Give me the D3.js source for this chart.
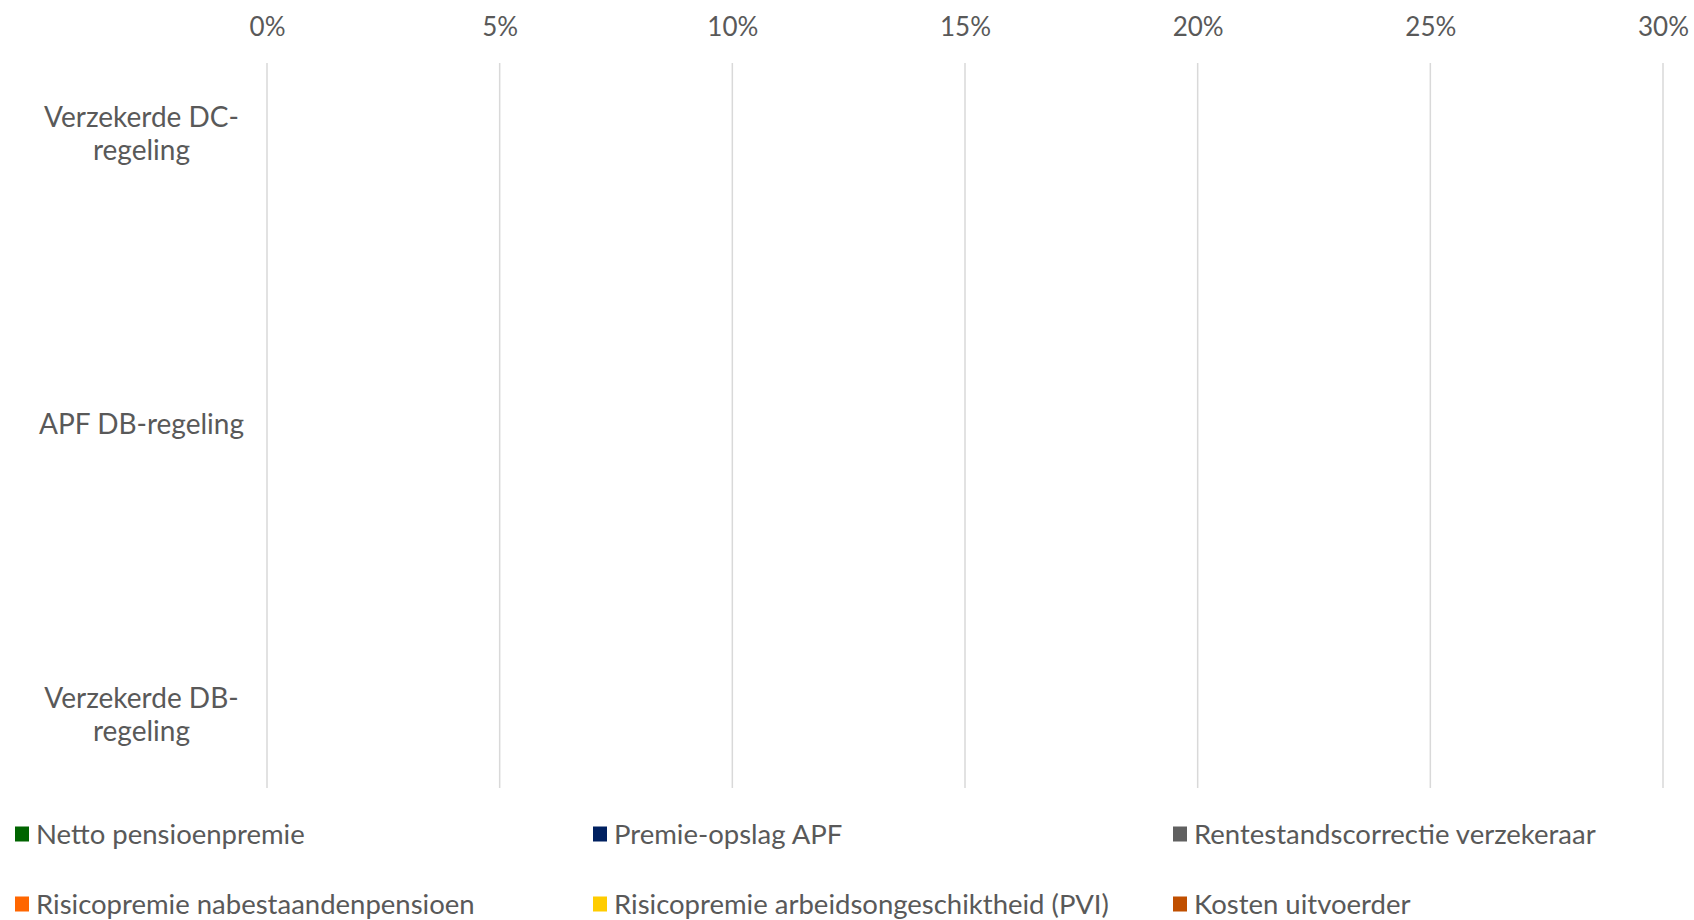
<!DOCTYPE html>
<html>
<head>
<meta charset="utf-8">
<script src="https://cdn.jsdelivr.net/npm/d3@7"></script>
<style>
  html, body { margin: 0; padding: 0; background: #ffffff; }
  svg { display: block; }
  text { font-family: Lato, "Open Sans", sans-serif; fill: #595959; }
</style>
</head>
<body>
<svg id="chart" width="1694" height="920"></svg>
<script>
// ---- data ----
const categories = ["Verzekerde DC-regeling", "APF DB-regeling", "Verzekerde DB-regeling"];
const categoryLines = [["Verzekerde DC-", "regeling"], ["APF DB-regeling"], ["Verzekerde DB-", "regeling"]];
const seriesNames = [
  "Netto pensioenpremie",
  "Premie-opslag APF",
  "Rentestandscorrectie verzekeraar",
  "Risicopremie nabestaandenpensioen",
  "Risicopremie arbeidsongeschiktheid (PVI)",
  "Kosten uitvoerder"
];
// The reference shows no visible bars: every segment is empty.
const nettoPensioenpremie = [0, 0, 0];
const premieOpslagAPF = [0, 0, 0];
const rentestandscorrectie = [0, 0, 0];
const risicoNabestaanden = [0, 0, 0];
const risicoPVI = [0, 0, 0];
const kostenUitvoerder = [0, 0, 0];
const xTicks = [0, 0.05, 0.10, 0.15, 0.20, 0.25, 0.30];
const seriesColors = ["#006400", "#002060", "#606060", "#FF6600", "#FFCC00", "#C04F00"];

// ---- layout ----
const svg = d3.select("#chart");
const plotLeft = 267, plotRight = 1663, plotTop = 63, plotBottom = 788;

const x = d3.scaleLinear().domain([0, 0.30]).range([plotLeft, plotRight]);
const y = d3.scaleBand().domain(categories).range([-11, 860]).paddingInner(0.45).paddingOuter(0.225);

// table for stacking
const allSeries = [nettoPensioenpremie, premieOpslagAPF, rentestandscorrectie, risicoNabestaanden, risicoPVI, kostenUitvoerder];
const table = categories.map((c, i) => {
  const row = { category: c };
  seriesNames.forEach((s, j) => { row[s] = allSeries[j][i]; });
  return row;
});
const stacked = d3.stack().keys(seriesNames)(table);

// gridlines
svg.append("g")
  .selectAll("line")
  .data(xTicks)
  .join("line")
  .attr("x1", d => x(d)).attr("x2", d => x(d))
  .attr("y1", plotTop).attr("y2", plotBottom)
  .attr("stroke", "#d9d9d9").attr("stroke-width", 1.5);

// x-axis (top)
const xAxis = d3.axisTop(x).tickValues(xTicks).tickFormat(d3.format(".0%")).tickSize(0).tickPadding(0);
const gx = svg.append("g").attr("transform", "translate(0,36)").call(xAxis);
gx.select(".domain").remove();
gx.selectAll("text").attr("font-size", 26).attr("dy", 0).style("fill", "#595959")
  .style("font-family", "Lato, 'Open Sans', sans-serif");

// bars (stacked; all zero-width here)
svg.append("g")
  .selectAll("g")
  .data(stacked)
  .join("g")
  .attr("fill", (d, i) => seriesColors[i])
  .selectAll("rect")
  .data(d => d)
  .join("rect")
  .attr("x", d => x(d[0]))
  .attr("width", d => Math.max(0, x(d[1]) - x(d[0])))
  .attr("y", d => y(d.data.category))
  .attr("height", y.bandwidth());

// category labels
const lineH = 33;
const cat = svg.append("g");
categories.forEach((c, i) => {
  const lines = categoryLines[i];
  const cy = y(c) + y.bandwidth() / 2;
  const t = cat.append("text")
    .attr("text-anchor", "middle")
    .attr("font-size", 28)
    .attr("x", 141.5)
    .attr("y", cy - (lines.length - 1) * lineH / 2)
    .attr("dy", "0.35em");
  lines.forEach((l, k) => {
    t.append("tspan").attr("x", 141.5).attr("dy", k === 0 ? "0.35em" : lineH).text(l);
  });
});

// legend
const legendCols = [15, 593, 1173];
const legendRows = [834, 904];
const lg = svg.append("g");
seriesNames.forEach((s, i) => {
  const col = i % 3, row = Math.floor(i / 3);
  const g = lg.append("g").attr("transform", `translate(${legendCols[col]},${legendRows[row]})`);
  g.append("rect").attr("x", 0).attr("y", -7.5).attr("width", 14).attr("height", 15).attr("fill", seriesColors[i]);
  g.append("text").attr("x", 21).attr("y", 0).attr("dy", "0.35em").attr("font-size", 27.5).text(s);
});
</script>
</body>
</html>
